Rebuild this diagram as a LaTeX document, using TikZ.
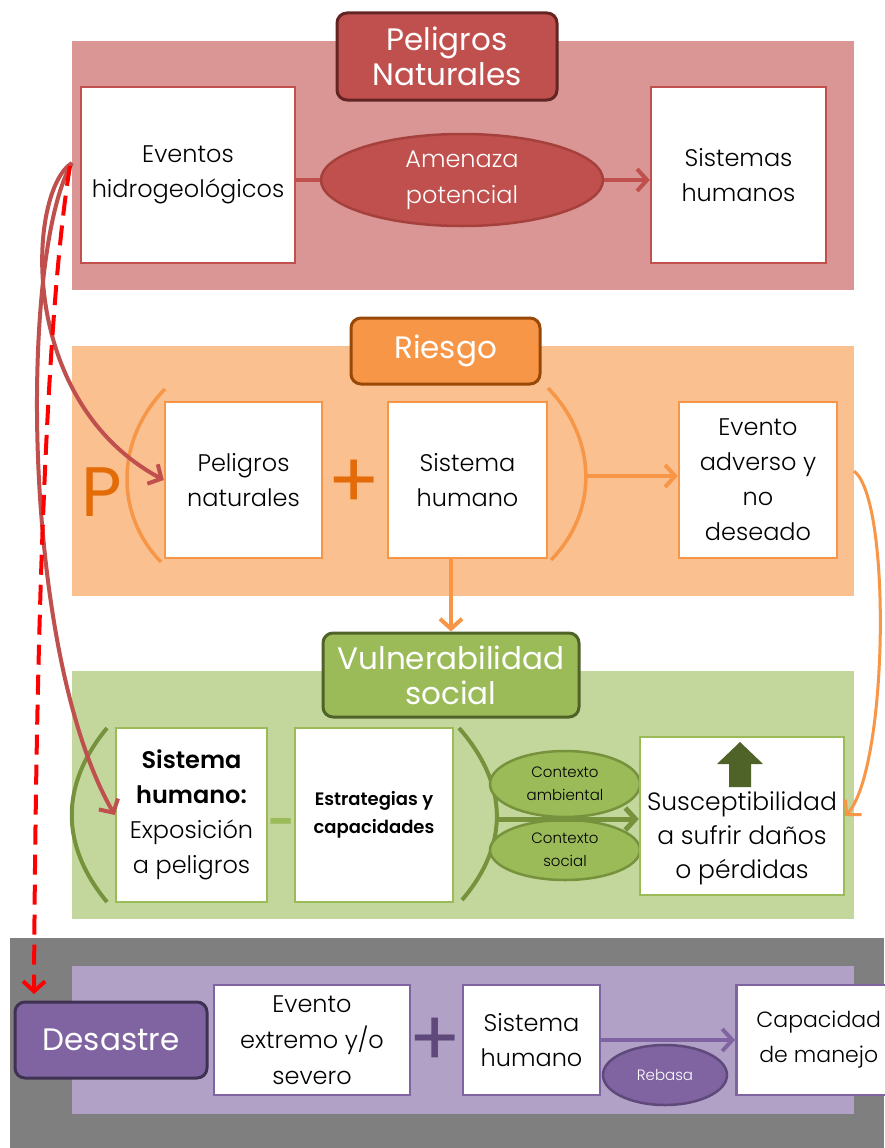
\documentclass[tikz,border=0pt]{standalone}
\usepackage{fontspec}
\setmainfont{Poppins Light}[BoldFont={Poppins SemiBold}]
\newfontfamily\headfont{Poppins}
\usetikzlibrary{arrows.meta,shapes.geometric}

\definecolor{redA}{HTML}{C0504D}
\definecolor{redBg}{HTML}{D99694}
\definecolor{redDk}{HTML}{632523}
\definecolor{redEl}{HTML}{A5403D}
\definecolor{orA}{HTML}{F79646}
\definecolor{orBg}{HTML}{FAC090}
\definecolor{orDk}{HTML}{984807}
\definecolor{orTx}{HTML}{E36C09}
\definecolor{grA}{HTML}{9BBB59}
\definecolor{grBg}{HTML}{C3D69B}
\definecolor{grLn}{HTML}{76923C}
\definecolor{grDk}{HTML}{4F6228}
\definecolor{puA}{HTML}{8064A2}
\definecolor{puBg}{HTML}{B2A1C7}
\definecolor{puDk}{HTML}{3F3151}
\definecolor{puTx}{HTML}{5F497A}
\definecolor{grayBg}{HTML}{7F7F7F}
\definecolor{dashred}{HTML}{FF0000}

\tikzset{
  boxw/.style={draw, fill=white, line width=2.5pt, inner sep=2pt, align=center,
    text=black, font=\fontsize{24}{35}\selectfont},
  ttl/.style={draw, line width=3pt, rounded corners=10pt, text=white, align=center,
    inner sep=2pt, font=\headfont\fontsize{31}{35}\selectfont},
  ovl/.style={ellipse, draw, line width=2.5pt, inner sep=0pt, align=center},
  link/.style={line width=4pt, -{Straight Barb[length=10pt,width=22pt]}},
  paren/.style={line width=3.5pt},
  plussign/.style={font=\headfont\fontsize{78}{78}\selectfont, inner sep=0pt},
}

\begin{document}
\begin{tikzpicture}[x=1pt,y=-1pt]
\useasboundingbox (0,0) rectangle (884,1148);
\fill[white] (0,0) rectangle (884,1148);

% section backgrounds
\fill[grayBg] (10,938) rectangle (884,1148);
\fill[redBg] (72,41) rectangle (854,290);
\fill[orBg] (72,346) rectangle (854,596);
\fill[grBg] (72,671) rectangle (854,919);
\fill[puBg] (72,966) rectangle (854,1114);

% ---------------- Peligros naturales ----------------
\node[boxw, draw=redA, minimum width=214pt, minimum height=176pt] (ev) at (188,175) {Eventos\\hidrogeológicos};
\node[boxw, draw=redA, minimum width=175pt, minimum height=176pt] (sis) at (738.5,175) {Sistemas\\humanos};
\coordinate (amc) at (462,180);
\draw[link, redA] (ev.east |- amc) -- (sis.west |- amc);
\node[ovl, fill=redA, draw=redEl, minimum width=282pt, minimum height=92pt, text=white,
      font=\fontsize{24}{36}\selectfont] (amen) at (amc) {Amenaza\\potencial};
\node[ttl, fill=redA, draw=redDk, minimum width=220pt, minimum height=87pt] (tpn) at (447,56.5) {Peligros\\Naturales};

% ---------------- Riesgo ----------------
\node[boxw, draw=orA, minimum width=157pt, minimum height=156pt] (pn) at (243.5,480) {Peligros\\naturales};
\node[boxw, draw=orA, minimum width=159pt, minimum height=156pt] (sh) at (467.5,480) {Sistema\\humano};
\node[boxw, draw=orA, minimum width=158pt, minimum height=156pt] (ad) at (758,480) {Evento\\adverso y\\no\\deseado};
\draw[orA, paren] (165,389) .. controls (115,440) and (115,515) .. (161,562);
\draw[orA, paren] (548,388) .. controls (598,440) and (598,512) .. (551,560);
\coordinate (rpo) at (586,476);
\draw[link, orA] (rpo) -- (rpo -| ad.west);
\node[plussign, text=orTx] (plus1) at (354,484) {+};
\node[text=orTx, font=\headfont\fontsize{70}{70}\selectfont] (pp) at (102,492) {P};
\node[ttl, fill=orA, draw=orDk, minimum width=189pt, minimum height=66pt] (tr) at (445.5,351) {Riesgo};

% ---------------- Vulnerabilidad social ----------------
\node[boxw, draw=grA, minimum width=151pt, minimum height=174pt] (shv) at (191.5,815)
  {\textbf{Sistema}\\\textbf{humano:}\\Exposición\\a peligros};
\node[boxw, draw=grA, minimum width=158pt, minimum height=174pt,
      font=\bfseries\fontsize{18}{28}\selectfont] (est) at (374,815) {Estrategias y\\capacidades};
\node[text=grA, font=\bfseries\fontsize{48}{48}\selectfont] (minus) at (281,829) {-};
\draw[grLn, line width=4pt] (107,728) .. controls (60,785) and (60,845) .. (107,902);
\draw[grLn, line width=4pt] (459,728) .. controls (509,785) and (509,845) .. (462,900);
\coordinate (rpg) at (497,819);
\node[ovl, fill=grA, draw=grLn, minimum width=150pt, minimum height=66pt,
      font=\fontsize{15}{23}\selectfont] (ca) at (565,784) {Contexto\\ambiental};
\node[ovl, fill=grA, draw=grLn, minimum width=150pt, minimum height=60pt,
      font=\fontsize{15}{23}\selectfont] (cs) at (565,850) {Contexto\\social};
\node[boxw, draw=grA, minimum width=204pt, minimum height=158pt] (sus) at (742,816) {};
\node[font=\fontsize{25}{34}\selectfont, align=center, inner sep=0pt] (sust) at (742,838)
  {Susceptibilidad\\a sufrir daños\\o pérdidas};
% upward block arrow inside the susceptibility box
\fill[grDk] (740,742) -- (763,764) -- (751,764) -- (751,787) -- (729,787) -- (729,764) -- (717,764) -- cycle;
\draw[link, grLn, line width=5pt] (rpg) -- (rpg -| sus.west);
\node[ttl, fill=grA, draw=grDk, minimum width=256pt, minimum height=84pt] (tv) at (451,675) {Vulnerabilidad\\social};
\draw[link, orA] (sh.south -| tv.north) -- (tv.north);

% ---------------- Desastre ----------------
\node[boxw, draw=puA, minimum width=196pt, minimum height=110pt, font=\fontsize{24}{36}\selectfont] (evx) at (312,1040) {Evento\\extremo y/o\\severo};
\node[boxw, draw=puA, minimum width=137pt, minimum height=110pt] (shp) at (531.5,1040) {Sistema\\humano};
\node[boxw, draw=puA, anchor=west, minimum width=165pt, minimum height=110pt,
      font=\fontsize{22}{35}\selectfont] (cap) at (735,1040) {Capacidad\\de manejo};
\node[plussign, text=puTx] (plus2) at (435,1042) {+};
\draw[link, puA] (shp.east) -- (cap.west);
\node[ovl, fill=puA, draw=puTx, minimum width=124pt, minimum height=60pt, text=white,
      font=\fontsize{15}{18}\selectfont] (reb) at (665,1075) {Rebasa};
\node[ttl, fill=puA, draw=puDk, minimum width=192pt, minimum height=76pt] (des) at (111,1040) {Desastre};

% ---------------- connectors along the sides ----------------
\coordinate (src) at (72,163);
\coordinate (dsrc) at (70,166);
\coordinate (dend) at (34,994);
\draw[link, redA] (src) .. controls (28,190) and (15,400) .. (pn.west);
\draw[link, redA] (src) .. controls (20,250) and (20,650) .. (shv.west);
\draw[link, dashred, dash pattern=on 20pt off 10pt] (dsrc) .. controls (48,300) and (36,600) .. (dend);
\coordinate (osrc) at (854,471);
\draw[link, orA, line width=3pt] (osrc) .. controls (892,500) and (888,770) .. (sus.east);
\end{tikzpicture}
\end{document}
